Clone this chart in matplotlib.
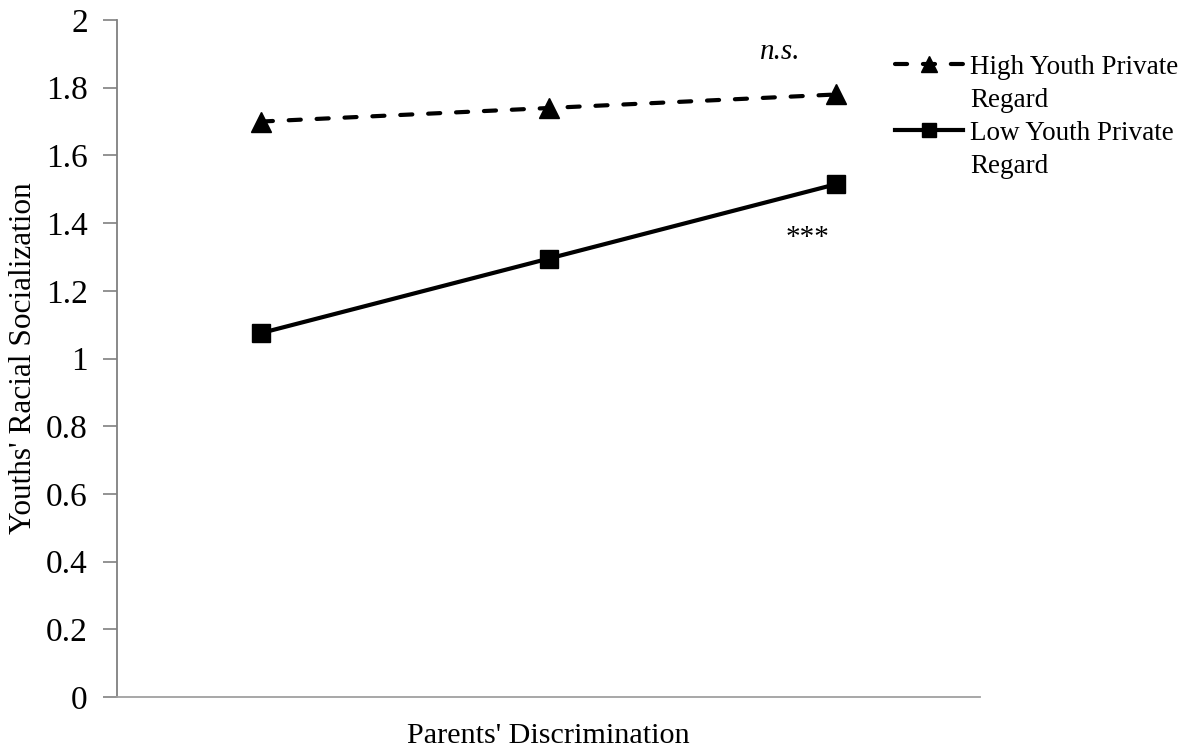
import matplotlib.pyplot as plt
from matplotlib.lines import Line2D
import numpy as np

plt.rcParams['font.family'] = ['Liberation Serif', 'DejaVu Serif']

# data
punkter = [0, 1, 2]
hog_regard = [1.70, 1.74, 1.78]
lag_regard = [1.075, 1.295, 1.515]
y_ticks = [0, 0.2, 0.4, 0.6, 0.8, 1, 1.2, 1.4, 1.6, 1.8, 2]
y_ticklabels = ["0", "0.2", "0.4", "0.6", "0.8", "1", "1.2", "1.4", "1.6", "1.8", "2"]

fig = plt.figure(figsize=(11.86, 7.54), dpi=100)
ax = fig.add_axes([117 / 1186, 1 - 697 / 754, (980 - 117) / 1186, (697 - 20) / 754])

h_hog, = ax.plot(punkter, hog_regard, color="black", linestyle=(0, (2.9, 3.8)), linewidth=3,
                 dash_capstyle="round", marker="^", markersize=15)
h_lag, = ax.plot(punkter, lag_regard, color="black", linestyle="-", linewidth=3,
                 marker="s", markersize=13)

ax.set_xlim(-0.5, 2.5)
ax.set_ylim(0, 2)
ax.set_yticks(y_ticks)
ax.set_yticklabels(y_ticklabels)
ax.set_xticks([])

for s in ["top", "right"]:
    ax.spines[s].set_visible(False)
ax.spines["left"].set_color("#808080")
ax.spines["bottom"].set_color("#a0a0a0")
ax.spines["left"].set_linewidth(1.3)
ax.spines["bottom"].set_linewidth(1.3)
ax.tick_params(axis="y", direction="out", length=10, width=1.2, color="#808080",
               labelsize=24, pad=11)

ax.set_ylabel("Youths' Racial Socialization", fontsize=22.5)
ax.yaxis.set_label_coords(-0.0915, 0.5)
ax.set_xlabel("Parents' Discrimination", fontsize=21.7, labelpad=19)

# signifikans
ax.text(2 - 0.195, 1.905, "n.s.", fontsize=21, style="italic", ha="center", va="center")
ax.text(2 - 0.1, 1.355, "***", fontsize=21, ha="center", va="center")

# legenden: handtaget ligger vid forsta raden, "Regard" pa egen rad
tom = Line2D([], [], linestyle="none")
leg = fig.legend([h_hog, tom, h_lag, tom],
                 ["High Youth Private", "Regard", "Low Youth Private", "Regard"],
                 loc="upper left", bbox_to_anchor=(876 / 1186, 1 - 36 / 754),
                 frameon=False, fontsize=19.5, handlelength=2.5, handletextpad=0.28,
                 labelspacing=0.29, borderpad=0.2, markerscale=0.8)

fig.savefig("out.png", dpi=100)
